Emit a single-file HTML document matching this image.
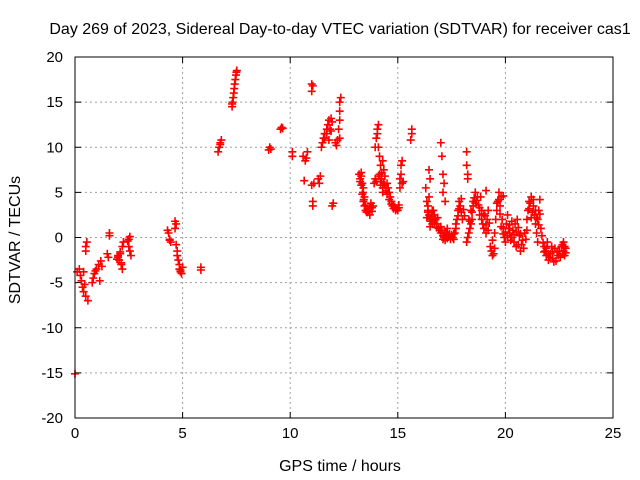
<!DOCTYPE html>
<html><head><meta charset="utf-8"><style>
body{margin:0;background:#fff}
svg{font-family:"Liberation Sans",sans-serif;display:block}
</style></head><body>
<svg id="chart" width="640" height="480">
<text x="340" y="34" text-anchor="middle" font-size="16">Day 269 of 2023, Sidereal Day-to-day VTEC variation (SDTVAR) for receiver cas1</text>
<text x="340" y="471" text-anchor="middle" font-size="16">GPS time / hours</text>
<text x="0" y="0" transform="translate(20,240) rotate(-90)" text-anchor="middle" font-size="16">SDTVAR / TECUs</text>
<g id="grid"></g><g id="ticks"></g><g id="marks"></g>
<rect x="75" y="57" width="538" height="361" fill="none" stroke="#000" stroke-width="1"/>
</svg>
<script>
const xTicks=[0,5,10,15,20,25];
const yTicks=[-20,-15,-10,-5,0,5,10,15,20];
const observations=[
[0,-15.1],[0.2,-3.5],[0.25,-4.2],[0.3,-4.8],[0.35,-5.5],[0.4,-6],[0.45,-5.2],[0.5,-6.5],[0.5,-1.5],[0.5,-1],[0.55,-0.5],[0.4,-3.8],[0.6,-7],[0.1,-3.8],
[0.8,-5],[0.85,-4.5],[0.9,-4],[1.0,-3.5],[1.1,-3],[1.2,-2.6],[1.15,-4.8],[1.25,-3.2],[0.95,-3.7],
[1.6,0.2],[1.6,0.5],[1.5,-1.8],[1.55,-2.2],
[2.0,-2],[2.05,-2.5],[2.1,-1.8],[2.15,-3],[2.2,-1],[2.25,-0.5],[2.0,-2.2],[2.1,-1.6],[2.2,-3.5],[2.15,-2.8],[1.95,-2.4],
[2.5,-0.2],[2.55,0.1],[2.5,-1],[2.6,-2],[2.55,-1.5],[2.45,-0.4],
[4.3,0.8],[4.35,0.5],[4.4,-0.3],[4.45,-0.5],[4.4,-0.2],
[4.65,1.8],[4.7,1.5],[4.65,1.0],[4.7,-0.8],[4.75,-1.5],[4.75,-2],[4.8,-2.5],[4.85,-3],[4.85,-3.5],[4.9,-3.8],[4.95,-4],[5.0,-3.3],[4.9,-3.6],
[5.85,-3.3],[5.85,-3.6],
[6.65,9.5],[6.7,10],[6.75,10.5],[6.8,10.8],[6.75,10.3],
[7.3,14.5],[7.32,15],[7.35,15.5],[7.38,16],[7.4,16.5],[7.42,17],[7.45,17.5],[7.48,18],[7.5,18.3],[7.52,18.5],[7.3,14.8],
[9.0,9.7],[9.05,10],[9.1,9.8],[9.55,12],[9.6,12.2],[9.65,12.1],
[10.1,9],[10.1,9.5],[10.6,9],[10.7,8.5],[10.75,8.8],[10.8,9.5],[10.65,6.3],
[11.0,17],[11.0,16.2],[11.05,16.8],[11.0,5.8],[11.05,4],[11.05,3.5],[11.1,6],
[11.3,6.5],[11.35,6],[11.4,6.8],
[11.45,10],[11.5,10.5],[11.55,11],[11.6,11.5],[11.7,12],[11.75,12.5],[11.8,13],[11.9,13.2],[11.95,12.8],[11.85,12],[11.7,11.5],[11.6,11],[11.8,10.8],[11.9,11.8],
[12.1,10.5],[12.15,10.2],[12.2,10.8],[12.3,14],[12.3,15],[12.35,15.5],[12.3,13],[12.25,12],[12.3,11],[11.95,3.5],[12.0,3.8],
[13.2,7],[13.25,6.5],[13.3,7.2],[13.35,6],[13.4,5.5],[13.45,4.5],[13.4,4],[13.45,3.5],[13.5,3],[13.55,2.8],[13.3,6.8],[13.38,5],
[13.6,3.2],[13.65,3],[13.7,2.5],[13.75,3.8],[13.8,3.3],[13.85,3.5],
[13.9,6],[13.95,6.5],[13.95,10],[14.0,11],[14.05,12],[14.1,12.5],[14.05,11.5],[14.1,10],[14.15,9],[14.2,8],
[14.1,6.8],[14.15,7],[14.2,6.2],[14.25,6.5],[14.3,5.5],[14.35,6],[14.3,5],[14.3,8.5],[14.35,7.5],[14.4,6.8],
[14.5,6],[14.55,5.5],[14.6,5],[14.65,4.5],[14.7,4],[14.75,3.5],[14.8,3.2],[14.9,3],[14.85,3.4],
[15.0,3],[15.05,3.3],[15.1,5.5],[15.1,6.5],[15.15,8],[15.2,8.5],[15.15,7],[15.2,6],[15.25,6.2],
[15.65,11.5],[15.65,12],[15.6,10.8],
[16.3,5.5],[16.35,4],[16.4,3],[16.45,2.5],[16.5,2],[16.4,3.5],[16.55,1.8],[16.6,1.5],[16.45,4.5],[16.5,6.5],[16.45,7.5],[16.35,2.2],[16.5,1.2],
[16.65,3],[16.7,2.5],[16.75,2],[16.8,1.5],[16.9,1],[17.0,0.5],[17.1,0.2],[17.2,-0.3],[17.25,0.5],[17.3,1],[17.15,0],[16.7,2],[16.6,3],[17.05,0.8],[17.35,0.2],
[17.0,10.5],[17.05,9],[17.1,7],[17.15,6],[17.2,4],[17.1,5],
[17.5,0.3],[17.55,0],[17.6,-0.2],[17.65,0.5],[17.7,1],[17.75,2],[17.8,3],[17.85,4],[17.9,3.5],[18.0,2],[17.6,0.4],[17.95,2.8],
[18.2,9.5],[18.2,8],[18.25,7],[18.25,6.5],
[18.2,-0.5],[18.25,0],[18.3,2],[18.4,3],[18.5,4],[18.6,5],[18.7,4.5],[18.5,3.5],[18.45,2],[18.35,1],[18.6,3.8],[18.4,1.5],
[18.85,4.5],[18.8,2.5],[18.9,3],[18.95,1.5],[19.0,1],[19.1,0.5],[19.15,2],[19.2,3],[19.05,2.4],[19.1,5.2],
[19.3,-1],[19.35,-1.5],[19.4,-2],[19.45,-1.8],[19.5,-1.2],[19.5,0.5],[19.4,-0.3],
[19.6,3],[19.65,4],[19.7,5],[19.8,4.5],[19.85,2],[19.9,1],[19.95,0],[20.0,-0.5],[20.05,1.5],[20.1,2.5],[19.75,3.5],[19.9,4.6],
[20.15,1],[20.2,0.5],[20.3,0],[20.4,-0.5],[20.5,-1],[20.35,0.8],[20.45,1.5],[20.55,2],[20.6,-0.8],[20.7,-1.5],[20.8,-0.3],[20.9,0.5],[20.25,-0.3],[20.65,0.2],
[21.0,2],[21.05,3],[21.1,4],[21.2,4.5],[21.3,3.5],[21.35,2.5],[21.4,1.5],[21.45,0.5],[21.5,-0.5],[21.55,3],[21.6,4.2],[21.65,1],[21.25,2.8],[21.5,2],
[21.8,-1],[21.85,-1.5],[21.9,-2],[22.0,-2.5],[22.1,-1.8],[22.2,-2.3],[22.3,-1.2],[22.35,-2.6],[22.45,-2],[22.5,-1.5],[21.95,-0.5],[22.15,-1],
[22.6,-1],[22.65,-0.8],[22.7,-1.5],[22.75,-2],[22.8,-1.2],[22.7,-0.5],
[13.25,6.2],[13.3,5.8],[13.35,4.8],[13.42,4.2],[13.5,3.6],[13.6,2.8],[13.7,3.4],[13.8,2.9],[14.0,6.2],[14.2,5.8],[14.25,7.2],[14.4,5.8],[14.45,5.2],[14.5,4.8],[14.6,4.2],[14.7,3.7],[14.8,3.6],[14.95,3.2],[15.05,3.6],
[16.4,2.8],[16.55,2.3],[16.6,2.1],[16.7,1.6],[16.8,1.1],[16.85,2.2],[16.95,0.8],[17.0,1.2],[17.1,-0.2],[17.2,0.6],[17.3,-0.1],[17.4,0.4],[17.45,-0.2],
[17.7,1.5],[17.8,2.4],[17.85,3.2],[17.95,4.3],[18.05,3.1],[18.1,2.4],[18.3,0.5],[18.35,1.8],[18.45,2.8],[18.55,4.4],[18.65,4.1],[18.75,3.6],[18.8,3.3],[18.9,2],[19.0,2.6],[19.1,1.4],[19.2,0.8],[19.25,1.6],
[19.55,2],[19.6,3.8],[19.7,4.2],[19.75,2.6],[19.8,1.2],[19.9,0.4],[20.0,0.6],[20.1,0.2],[20.2,1.4],[20.3,1.8],[20.4,0.3],[20.5,0.6],[20.6,1.1],[20.7,0.4],[20.75,-0.8],[20.85,-1.2],[20.95,-0.2],[21.0,0.8],
[21.1,3.2],[21.15,3.8],[21.2,2.2],[21.3,4.2],[21.4,3],[21.45,2.2],[21.55,1.4],[21.6,2.6],[21.7,0.2],[21.75,-0.6],[21.8,-1.6],[21.9,-1.2],[22.0,-1.8],[22.05,-2.2],[22.2,-1.6],[22.25,-2.7],[22.4,-1.6],[22.55,-2.2],[22.65,-1.8],[22.75,-1.0],[22.8,-1.7]
];
const X0=75,X1=613,Y0=418,Y1=57;
const xs=h=>X0+(h-0)/(25-0)*(X1-X0);
const ys=v=>Y0-(v+20)/40*(Y0-Y1);
const NS='http://www.w3.org/2000/svg';
const grid=document.getElementById('grid'),ticks=document.getElementById('ticks'),marks=document.getElementById('marks');
function mk(tag,attrs,parent){const e=document.createElementNS(NS,tag);for(const k in attrs)e.setAttribute(k,attrs[k]);parent.appendChild(e);return e;}
xTicks.forEach(t=>{const x=xs(t);
 if(t>0&&t<25){const g=mk('line',{x1:x,x2:x,y1:Y1,y2:Y0,stroke:'#a0a0a0','stroke-dasharray':'2,3'},grid);
 
 }
 mk('line',{x1:x,x2:x,y1:Y0,y2:Y0-6,stroke:'#000'},ticks);mk('line',{x1:x,x2:x,y1:Y1,y2:Y1+6,stroke:'#000'},ticks);
 const l=mk('text',{x:x,y:Y0+20,'text-anchor':'middle','font-size':'15'},ticks);l.textContent=t;
 
 });
yTicks.forEach(t=>{const y=ys(t);
 if(t>-20&&t<20){const g=mk('line',{x1:X0,x2:X1,y1:y,y2:y,stroke:'#a0a0a0','stroke-dasharray':'2,3'},grid);
 
 }
 mk('line',{x1:X0,x2:X0+6,y1:y,y2:y,stroke:'#000'},ticks);mk('line',{x1:X1,x2:X1-6,y1:y,y2:y,stroke:'#000'},ticks);
 const l=mk('text',{x:X0-12,y:y+5,'text-anchor':'end','font-size':'15'},ticks);l.textContent=t;
 
 });
observations.forEach(([h,v])=>{const x=xs(h),y=ys(v);
 const p=mk('path',{d:`M${x-4},${y}h8M${x},${y-4}v8`,stroke:'#f00','stroke-width':'1.6',fill:'none'},marks);
 
 });
</script>
</body></html>
